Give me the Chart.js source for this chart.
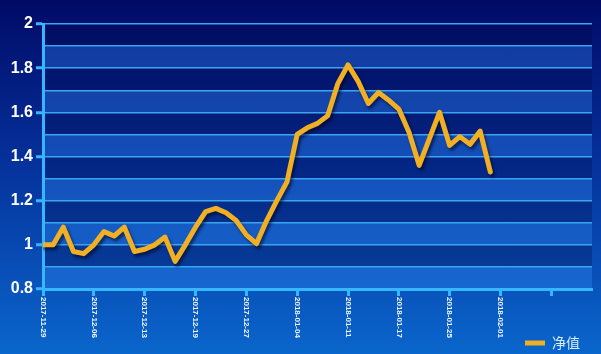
<!DOCTYPE html>
<html>
<head>
<meta charset="utf-8">
<script src="https://cdn.jsdelivr.net/npm/chart.js@4.4.1/dist/chart.umd.min.js"></script>
<style>
html, body { margin: 0; padding: 0; background: #0a4fb4; }
#chart { display: block; background: linear-gradient(180deg, #010a66 0%, #05309a 45%, #0a66cc 100%); }
</style>
</head>
<body>
<canvas id="chart" width="601" height="354"></canvas>
<script>
// tick labels (one every 5 trading days)
const tickLabels = ["2017-11-29", "2017-12-06", "2017-12-13", "2017-12-19", "2017-12-27",
                    "2018-01-04", "2018-01-11", "2018-01-17", "2018-01-25", "2018-02-01"];
const seriesName = "净值";
// one value per trading day
const navValues = [1.00, 1.00, 1.08, 0.97, 0.96, 1.00, 1.06, 1.04, 1.08, 0.97,
                   0.98, 1.00, 1.035, 0.925, 1.00, 1.08, 1.15, 1.165, 1.145, 1.11,
                   1.045, 1.005, 1.11, 1.20, 1.285, 1.50, 1.53, 1.55, 1.585, 1.73,
                   1.815, 1.74, 1.64, 1.69, 1.655, 1.615, 1.51, 1.36, 1.48, 1.60,
                   1.45, 1.49, 1.455, 1.515, 1.33];

const even = v => Math.round(v * 10) % 2 === 0;

// 1. Alternating light / dark bands between the grid lines (bottom band is light)
const bands = {
    id: "bands",
    beforeDraw(chart) {
        const {ctx, chartArea: area, scales: {y}} = chart;
        const ticks = y.ticks;
        ctx.save();
        for (let i = 0; i < ticks.length - 1; i++) {
            const a = y.getPixelForValue(ticks[i].value);
            const b = y.getPixelForValue(ticks[i + 1].value);
            ctx.fillStyle = i % 2 === 0 ? "rgba(55, 150, 255, 0.30)" : "rgba(0, 4, 60, 0.25)";
            ctx.fillRect(area.left, Math.min(a, b), area.right - area.left, Math.abs(a - b));
        }
        ctx.restore();
    }
};

// 2. Drop shadow under the line
const shadow = {
    id: "shadow",
    beforeDatasetDraw(chart) {
        const ctx = chart.ctx;
        ctx.save();
        ctx.shadowColor = "rgba(0, 0, 30, 0.55)";
        ctx.shadowBlur = 3;
        ctx.shadowOffsetX = 2;
        ctx.shadowOffsetY = 3;
    },
    afterDatasetDraw(chart) {
        chart.ctx.restore();
    }
};

// 3. Date labels, turned clockwise and read top to bottom
const dateLabels = {
    id: "dateLabels",
    afterDraw(chart) {
        const {ctx, chartArea: area, scales: {x}} = chart;
        ctx.save();
        ctx.fillStyle = "#f2f8ff";
        ctx.font = "bold 8px 'Liberation Sans', Arial, sans-serif";
        ctx.textAlign = "left";
        ctx.textBaseline = "middle";
        tickLabels.forEach((label, i) => {
            ctx.save();
            ctx.translate(x.getPixelForValue(i * 5), area.bottom + 8);
            ctx.rotate(Math.PI / 2);
            ctx.fillText(label, 0, 0);
            ctx.restore();
        });
        ctx.restore();
    }
};

// 4. Legend sits a little in from the right edge
const legendShift = {
    id: "legendShift",
    afterLayout(chart) {
        chart.legend.right -= 9;
    }
};

const axisBlue = "#36b6ff";

const config = {
    type: "line",
    data: {
        datasets: [{
            label: seriesName,
            data: navValues.map((v, i) => ({x: i, y: v})),
            borderColor: "#f1b024",
            backgroundColor: "#f1b024",
            borderWidth: 5,
            borderJoinStyle: "round",
            borderCapStyle: "round",
            pointRadius: 0,
            tension: 0
        }]
    },
    options: {
        responsive: false,
        animation: false,
        layout: {
            padding: {top: 24, right: 9, left: 0, bottom: -6}
        },
        plugins: {
            tooltip: {enabled: false},
            legend: {
                position: "bottom",
                align: "end",
                labels: {
                    usePointStyle: true,
                    pointStyle: "line",
                    pointStyleWidth: 20,
                    color: "#d8ecff",
                    font: {size: 14, family: "'Noto Sans CJK SC', sans-serif"},
                    padding: 3
                }
            }
        },
        scales: {
            x: {
                type: "linear",
                min: 0,
                max: 54,
                afterFit: scale => { scale.height = 44; },
                ticks: {
                    stepSize: 5,
                    includeBounds: false,
                    display: false
                },
                grid: {
                    drawOnChartArea: false,
                    tickLength: 7,
                    tickColor: axisBlue,
                    tickWidth: 3
                },
                border: {color: axisBlue, width: 3}
            },
            y: {
                min: 0.8,
                max: 2,
                afterFit: scale => { scale.width = 43; },
                ticks: {
                    stepSize: 0.1,
                    autoSkip: false,
                    padding: 3,
                    color: "#ffffff",
                    font: {size: 16, weight: "bold", family: "'Liberation Sans', Arial, sans-serif"},
                    callback: v => even(v) ? String(Math.round(v * 10) / 10) : ""
                },
                grid: {
                    color: "#3aa6f2",
                    lineWidth: 1.5,
                    tickLength: 7,
                    tickWidth: 3,
                    tickColor: c => c.tick && even(c.tick.value) ? axisBlue : "rgba(0,0,0,0)"
                },
                border: {color: axisBlue, width: 3}
            }
        }
    },
    plugins: [bands, shadow, dateLabels, legendShift]
};

new Chart(document.getElementById("chart").getContext("2d"), config);
</script>
</body>
</html>
